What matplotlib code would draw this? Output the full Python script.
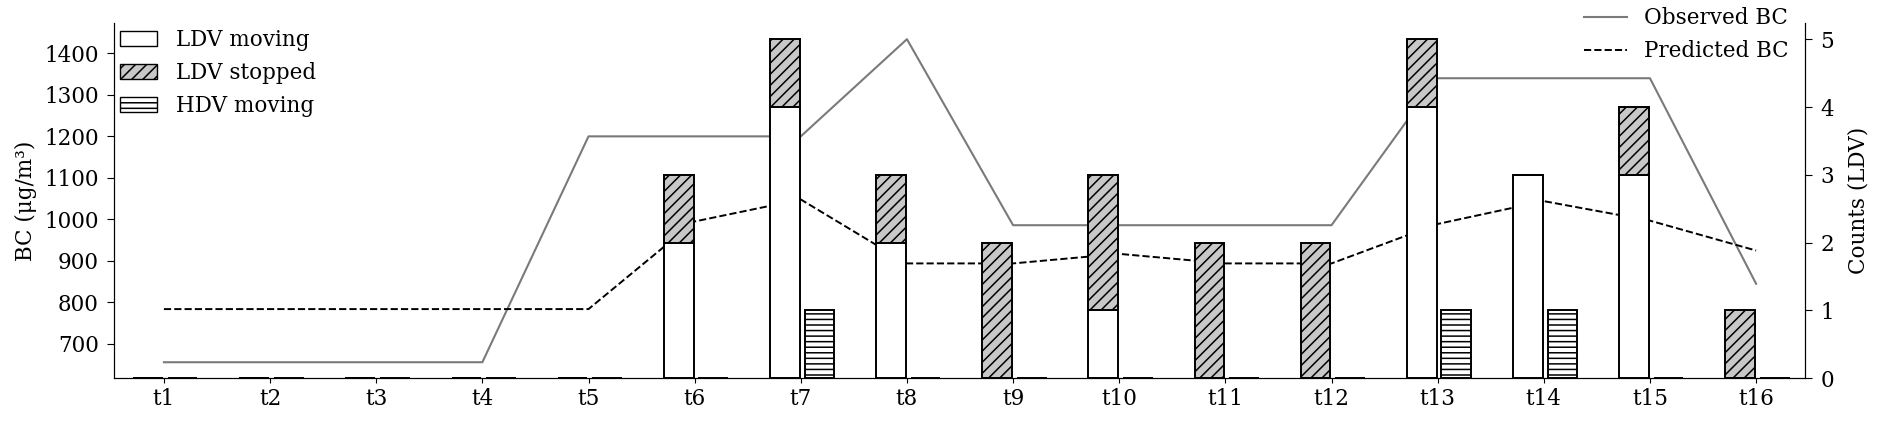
import numpy as np
import matplotlib
matplotlib.use("Agg")
import matplotlib.pyplot as plt
from matplotlib.patches import Patch

plt.rcParams["font.family"] = "DejaVu Serif"
plt.rcParams["font.size"] = 15.5
plt.rcParams["hatch.linewidth"] = 1.1

# data
labels = ["t%d" % i for i in range(1, 17)]
observed = [656, 656, 656, 656, 1200, 1200, 1200, 1434, 986, 986, 986, 986, 1340, 1340, 1340, 845]
predicted = [784, 784, 784, 784, 784, 995, 1048, 894, 894, 917, 894, 894, 989, 1044, 997, 925]
ldv_moving = [0, 0, 0, 0, 0, 2, 4, 2, 0, 1, 0, 0, 4, 3, 3, 0]
ldv_stopped = [0, 0, 0, 0, 0, 1, 1, 1, 2, 2, 2, 2, 1, 0, 1, 1]
hdv_moving = [0, 0, 0, 0, 0, 0, 1, 0, 0, 0, 0, 0, 1, 1, 0, 0]

x = np.arange(len(labels))
fig, ax = plt.subplots(figsize=(18.88, 4.34), dpi=100)
fig.subplots_adjust(left=0.0604, right=0.956, bottom=0.129, top=0.947)

ax.plot(x, observed, color="#7a7a7a", lw=1.5, label="Observed BC")
ax.plot(x, predicted, color="black", lw=1.4, ls="--", label="Predicted BC")
ax.set_ylim(618, 1473)
ax.set_yticks(range(700, 1401, 100))
ax.tick_params(axis="y", length=5, pad=6)
ax.set_ylabel("BC (μg/m³)", labelpad=5)
ax.set_xticks(x)
ax.set_xticklabels(labels)
ax.set_xlim(-0.47, 15.46)
ax.spines["top"].set_visible(False)
ax.legend(loc="upper right", bbox_to_anchor=(0.9956, 1.068), frameon=False,
          borderaxespad=0, handlelength=2.0)

ax2 = ax.twinx()
w = 0.28
ax2.bar(x - 0.29, ldv_moving, w, align="edge", color="white", edgecolor="black", lw=1.4)
ax2.bar(x - 0.29, ldv_stopped, w, bottom=ldv_moving, align="edge", color="#c8c8c8",
        edgecolor="black", lw=1.4, hatch="///")
ax2.bar(x + 0.035, hdv_moving, w, align="edge", color="white", edgecolor="black", lw=1.4, hatch="---")
ax2.set_ylim(0, 5.24)
ax2.set_yticks(range(0, 6))
ax2.tick_params(axis="y", length=5, pad=6)
ax2.set_ylabel("Counts (LDV)", labelpad=10)
ax2.spines["top"].set_visible(False)

handles = [Patch(facecolor="white", edgecolor="black", label="LDV moving"),
           Patch(facecolor="#c8c8c8", edgecolor="black", hatch="///", label="LDV stopped"),
           Patch(facecolor="white", edgecolor="black", hatch="---", label="HDV moving")]
ax2.legend(handles=handles, loc="upper left", frameon=False, borderaxespad=0,
           borderpad=0.3, handlelength=1.7, handletextpad=0.9)

fig.savefig("out.png", dpi=100)
